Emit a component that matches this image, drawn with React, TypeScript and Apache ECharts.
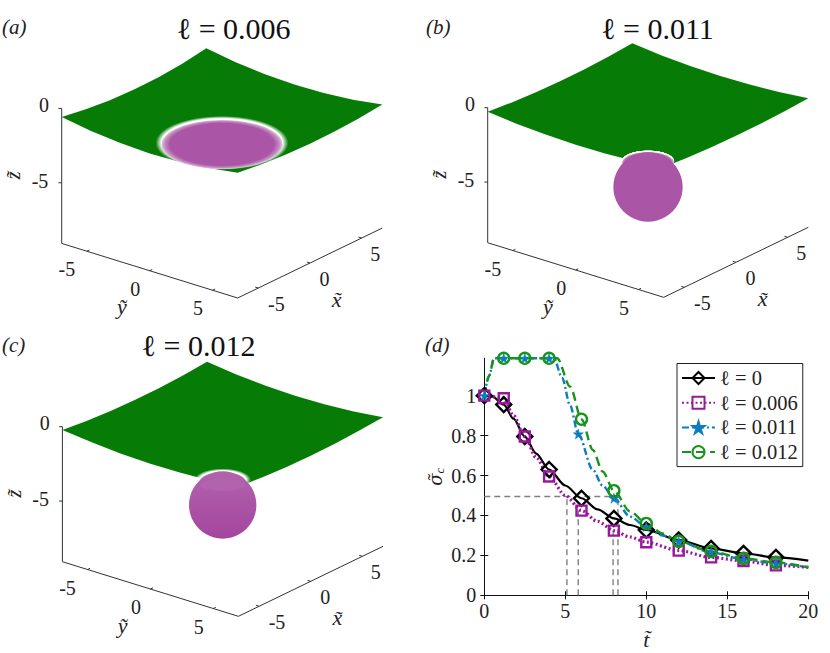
import React, { useEffect, useRef } from "react";
import * as echarts from "echarts";

const FONT = "'Liberation Serif', 'DejaVu Serif', serif";

// ---- panel (d) data ----
const legendNames = ["ℓ = 0", "ℓ = 0.006", "ℓ = 0.011", "ℓ = 0.012"];
const xTicks = [0, 5, 10, 15, 20];
const yTicks = [0, 0.2, 0.4, 0.6, 0.8, 1];
const yMax = 1.187;

const t0 = [0, 0.5, 1.2, 1.8, 2.5, 3.2, 4, 5, 6, 7, 8, 9, 10, 12, 14, 16, 18, 20];
const v0 = [1, 0.995, 0.955, 0.885, 0.795, 0.71, 0.63, 0.55, 0.486, 0.43, 0.385, 0.352, 0.327, 0.277, 0.235, 0.21, 0.19, 0.174];
const m0 = [0, 1.2, 2.5, 4, 6, 8, 10, 12, 14, 16, 18];

const t1 = t0;
const v1 = [1, 0.995, 0.987, 0.9, 0.795, 0.69, 0.595, 0.5, 0.424, 0.37, 0.324, 0.292, 0.266, 0.224, 0.19, 0.172, 0.15, 0.14];
const m1 = m0;

const t2 = [0, 0.3, 0.6, 1.2, 2.5, 4, 4.3, 4.8, 5.3, 5.8, 6.7, 7.3, 8, 9, 10, 11, 12, 14, 16, 18, 20];
const v2 = [1, 1.1, 1.187, 1.187, 1.187, 1.187, 1.187, 1.09, 0.95, 0.808, 0.628, 0.55, 0.486, 0.394, 0.344, 0.3, 0.27, 0.215, 0.18, 0.16, 0.14];
const m2 = [0, 1.2, 2.5, 4, 5.8, 8, 10, 12, 14, 16, 18];

const t3 = [0, 0.3, 0.6, 1.2, 2.5, 4, 4.5, 5.3, 6, 6.7, 7.3, 8, 9, 10, 11, 12, 14, 16, 18, 20];
const v3 = [1, 1.1, 1.187, 1.187, 1.187, 1.187, 1.187, 1.045, 0.882, 0.728, 0.62, 0.524, 0.42, 0.36, 0.31, 0.27, 0.22, 0.185, 0.165, 0.14];
const m3 = [1.2, 2.5, 4, 6, 8, 10, 12, 14, 16, 18];

const guideLevel = 0.495;
const guideT = [5.1, 5.8, 7.95, 8.25];
const guideTop = [0.49, 0.424, 0.324, 0.49];

// ---- panels (a)-(c) data ----
const panelTitles = ["ℓ = 0.006", "ℓ = 0.011", "ℓ = 0.012"];
const panelLetters = ["(a)", "(b)", "(c)", "(d)"];
const boxTicks = [-5, 0, 5];
const zTicks = [0, -5];
const boxHalf = 7;
const zFloor = -9.08;

// z of the surface along its four edges: left→top, top→right, right→bottom, bottom→left
const edgeZA = [
  [-0.57, -0.85, -1.02, -1.09, -1.055, -0.915, -0.67],
  [-0.67, -0.99, -1.19, -1.27, -1.23, -1.06, -0.77],
  [-0.77, -0.945, -1.04, -1.06, -1.0, -0.865, -0.65],
  [-0.65, -0.95, -1.14, -1.19, -1.11, -0.9, -0.57],
];
const edgeZB = [
  [-0.27, -0.43, -0.53, -0.575, -0.565, -0.5, -0.38],
  [-0.38, -0.58, -0.7, -0.74, -0.7, -0.59, -0.4],
  [-0.4, -0.5, -0.56, -0.57, -0.54, -0.46, -0.34],
  [-0.34, -0.52, -0.63, -0.655, -0.6, -0.48, -0.27],
];
const edgeZC = [
  [-0.22, -0.4, -0.51, -0.56, -0.55, -0.48, -0.34],
  [-0.34, -0.58, -0.73, -0.79, -0.75, -0.62, -0.4],
  [-0.4, -0.53, -0.61, -0.63, -0.6, -0.51, -0.36],
  [-0.36, -0.54, -0.64, -0.65, -0.59, -0.44, -0.22],
];
const sphereZ = [-2.94, -5.85, -5.78];
const sphereR = [3.72, 2.13, 2.07];
const capZ = [-2.94, -4.2, -4.2];
const capR = [3.72, 1.6, 1.43];

// layout of the 3D panels
const origins = [
  [222, 100.7],
  [648, 100],
  [222.7, 419],
];
const halos = [6, 0.6, 5];
const U_X = 10.33, U_Y = 12.57, V_X = 5, V_Y = -3.9, V_Z = 14.87;
const PX_PER_UNIT = 16.27;
const CAP_FLATTEN = 0.405;
const U_SPAN = 170, V_TOP = 100, V_BOTTOM = -215;

const GREEN = "#067c06";
const PURPLE = "#aa55a5";
const AXIS = "#333";

const project = (x: number, y: number, z: number) => [
  U_X * x + U_Y * y,
  V_X * x + V_Y * y + V_Z * z,
];

const radial = (stops: [number, string][]) =>
  new (echarts.graphic as any).RadialGradient(
    0.5,
    0.5,
    0.5,
    stops.map(([offset, color]) => ({ offset, color }))
  );

const glowFill = (f: number) =>
  radial([
    [0, "#ffffff"],
    [f, "#ffffff"],
    [f + (1 - f) * 0.3, "rgba(255,255,255,0.7)"],
    [1, "rgba(255,255,255,0)"],
  ]);

const rimFill = (core: string) =>
  radial([
    [0, core],
    [0.86, core],
    [0.95, "#c48fc1"],
    [1, "#e4cce3"],
  ]);

const panelRender = (panel: number, edges: number[][]) => (_p: any, api: any) => {
  const P = (x: number, y: number, z: number) => api.coord(project(x, y, z));
  const h = boxHalf;
  const steps = edges[0].length - 1;
  const along = (i: number) => -h + (2 * h * i) / steps;
  const pts: number[][] = [];
  edges[0].forEach((z, i) => pts.push(P(along(i), -h, z)));
  edges[1].forEach((z, i) => pts.push(P(h, along(i), z)));
  edges[2].forEach((z, i) => pts.push(P(-along(i), h, z)));
  edges[3].forEach((z, i) => pts.push(P(-h, -along(i), z)));

  const line = (a: number[], b: number[]) => ({
    type: "line",
    shape: { x1: a[0], y1: a[1], x2: b[0], y2: b[1] },
    style: { stroke: AXIS, lineWidth: 1 },
  });
  const label = (text: string, at: number[], dx: number, dy: number, size = 20, extra: any = {}) => ({
    type: "text",
    x: at[0] + dx,
    y: at[1] + dy,
    rotation: extra.rotation || 0,
    style: {
      text,
      fill: "#222",
      font: `${extra.italic ? "italic " : ""}${size}px ${FONT}`,
      align: "center",
      verticalAlign: "middle",
    },
  });

  const children: any[] = [];
  children.push({ type: "polygon", shape: { points: pts }, style: { fill: GREEN } });

  // box lines
  const lb = P(-h, -h, zFloor);
  const front = P(-h, h, zFloor);
  const rb = P(h, h, zFloor);
  const topZ = P(-h, -h, 0);
  children.push(line(topZ, lb), line(lb, front), line(front, rb));

  boxTicks.forEach((t, i) => {
    children.push(line(P(-h, t, zFloor), P(-h + 0.25, t, zFloor)));
    children.push(line(P(t, h, zFloor), P(t, h - 0.25, zFloor)));
    children.push(label(String(t), P(-h, t, zFloor), [-20, -14.5, -14.5][i], 18));
    children.push(label(String(t), P(t, h, zFloor), [18, 14.5, 13.5][i], 15.8));
  });
  zTicks.forEach((t, i) => {
    const a = P(-h, -h, t);
    children.push(line(a, [a[0] - 3.3, a[1]]));
    children.push(label(String(t), a, [-17.7, -21.7][i], [-3.3, -2][i]));
  });
  children.push(label("ỹ", P(-h, 0, zFloor), -27.7, 36, 22, { italic: true }));
  children.push(label("x̃", P(0, h, zFloor), 26.7, 36, 22, { italic: true }));
  children.push(label("z̃", P(-h, -h, -5), -48.5, -7.5, 20, { italic: true, rotation: Math.PI / 2 }));

  // sphere
  const halo = halos[panel];
  const capC = P(0, 0, capZ[panel]);
  const capRx = capR[panel] * PX_PER_UNIT;
  const capRy = capRx * CAP_FLATTEN;
  const scale = (capRx + halo) / capRx;
  children.push({
    type: "ellipse",
    shape: { cx: capC[0], cy: capC[1] - 1.5, rx: capRx + halo, ry: capRy * scale },
    style: { fill: glowFill(capRx / (capRx + halo)) },
  });
  children.push({
    type: "ellipse",
    shape: { cx: capC[0], cy: capC[1], rx: capRx, ry: capRy },
    style: { fill: rimFill(panel === 2 ? "#b263ad" : PURPLE) },
  });
  if (panel > 0) {
    const c = P(0, 0, sphereZ[panel]);
    const r = sphereR[panel] * PX_PER_UNIT;
    children.push({
      type: "circle",
      shape: { cx: c[0], cy: c[1], r },
      style: {
        fill:
          panel === 2
            ? new (echarts.graphic as any).LinearGradient(0, 0, 0, 1, [
                { offset: 0, color: "#b263ad" },
                { offset: 1, color: "#a4459e" },
              ])
            : PURPLE,
      },
    });
    children.push({
      type: "ellipse",
      shape: { cx: capC[0], cy: capC[1] + capRy * 0.35, rx: capRx * 0.96, ry: capRy * 0.65 },
      style: { fill: panel === 2 ? "#b263ad" : PURPLE },
    });
  }
  return { type: "group", children };
};

const STAR = "path://M50 0 L61 35 L98 35 L68 57 L79 91 L50 70 L21 91 L32 57 L2 35 L39 35 Z";

const curve = (
  name: string,
  ts: number[],
  vs: number[],
  marks: number[],
  color: string,
  symbol: string,
  size: number,
  width: number,
  type: any,
  filled = false
) => ({
  name,
  type: "line",
  xAxisIndex: 3,
  yAxisIndex: 3,
  smooth: 0.3,
  smoothMonotone: "x",
  symbol,
  symbolSize: size,
  showSymbol: true,
  showAllSymbol: true,
  clip: true,
  lineStyle: { color, width, type },
  itemStyle: {
    color: filled ? color : "rgba(0,0,0,0)",
    borderColor: color,
    borderWidth: filled ? 0.5 : 2.4,
  },
  data: ts.map((t, i) => ({
    value: [t, vs[i]],
    symbol: marks.includes(t) ? symbol : "none",
  })),
});

const guideStyle = { color: "#808080", width: 1.4, type: [6, 4] as any };
const guide = (name: string, data: number[][]) => ({
  name,
  type: "line",
  xAxisIndex: 3,
  yAxisIndex: 3,
  symbol: "none",
  lineStyle: guideStyle,
  data,
});

const hiddenAxis = (grid: number, min: number, max: number) => ({
  type: "value",
  gridIndex: grid,
  min,
  max,
  show: false,
});

export default function App() {
  const ref = useRef<HTMLDivElement>(null);
  useEffect(() => {
    document.body.style.margin = "0";
    document.body.style.background = "#fff";
    const chart = echarts.init(ref.current!, null, { renderer: "svg" });
    const grids: any[] = origins.map(([ox, oy]) => ({
      left: ox - U_SPAN,
      top: oy - V_TOP,
      width: 2 * U_SPAN,
      height: V_TOP - V_BOTTOM,
    }));
    grids.push({ left: 484.3, top: 358.3, width: 324, height: 237 });

    const axisCommon = {
      axisLine: { show: true, lineStyle: { color: "#111", width: 1 } },
      splitLine: { show: false },
    };
    const tickStyle = { inside: true, length: 4, lineStyle: { color: "#111", width: 1 } };

    const option: any = {
      animation: false,
      backgroundColor: "#fff",
      textStyle: { fontFamily: FONT },
      grid: grids,
      xAxis: [
        hiddenAxis(0, -U_SPAN, U_SPAN),
        hiddenAxis(1, -U_SPAN, U_SPAN),
        hiddenAxis(2, -U_SPAN, U_SPAN),
        {
          ...axisCommon,
          type: "value",
          gridIndex: 3,
          min: 0,
          max: 20,
          interval: 5,
          axisTick: { ...tickStyle, customValues: xTicks },
          axisLabel: {
            customValues: xTicks,
            color: "#222",
            fontFamily: FONT,
            fontSize: 20,
            margin: 6,
          },
          name: "t̃",
          nameLocation: "middle",
          nameGap: 33,
          nameTextStyle: { fontFamily: FONT, fontSize: 22, fontStyle: "italic", color: "#222" },
        },
        {
          ...axisCommon,
          type: "value",
          gridIndex: 3,
          position: "top",
          min: 0,
          max: 20,
          interval: 5,
          axisTick: { ...tickStyle, customValues: xTicks },
          axisLabel: { show: false },
        },
      ],
      yAxis: [
        hiddenAxis(0, V_BOTTOM, V_TOP),
        hiddenAxis(1, V_BOTTOM, V_TOP),
        hiddenAxis(2, V_BOTTOM, V_TOP),
        {
          ...axisCommon,
          type: "value",
          gridIndex: 3,
          min: 0,
          max: yMax,
          axisTick: { ...tickStyle, customValues: yTicks },
          axisLabel: {
            customValues: yTicks,
            color: "#222",
            fontFamily: FONT,
            fontSize: 20,
            margin: 8,
          },
          name: "{a|σ̃}{b|c}",
          nameLocation: "middle",
          nameRotate: 90,
          nameGap: 38,
          nameTextStyle: {
            color: "#222",
            rich: {
              a: { fontFamily: "'DejaVu Serif', serif", fontSize: 18, fontStyle: "italic", color: "#222" },
              b: { fontFamily: FONT, fontSize: 13, fontStyle: "italic", color: "#222", padding: [8, 0, 0, 0] },
            },
          },
        },
        {
          ...axisCommon,
          type: "value",
          gridIndex: 3,
          position: "right",
          min: 0,
          max: yMax,
          axisTick: { ...tickStyle, customValues: yTicks },
          axisLabel: { show: false },
        },
      ],
      legend: {
        data: legendNames,
        orient: "vertical",
        left: 677,
        top: 363.5,
        padding: [4, 5, 4, 4],
        itemWidth: 33,
        itemHeight: 15,
        itemGap: 3.7,
        backgroundColor: "#fff",
        borderColor: "#222",
        borderWidth: 1,
        borderRadius: 0,
        selectedMode: false,
        textStyle: { fontFamily: FONT, fontSize: 20.5, color: "#222" },
      },
      graphic: {
        elements: [
          ...panelTitles.map((text, i) => ({
            type: "text",
            x: [233.7, 657.5, 198.5][i],
            y: [28, 28, 345.7][i],
            style: {
              text,
              font: `30px ${FONT}`,
              fill: "#111",
              align: "center",
              verticalAlign: "middle",
            },
          })),
          ...panelLetters.map((text, i) => ({
            type: "text",
            x: [2, 426, 2, 425][i],
            y: [27, 27, 345, 345][i],
            style: {
              text,
              font: `italic 21px ${FONT}`,
              fill: "#222",
              align: "left",
              verticalAlign: "middle",
            },
          })),
        ],
      },
      series: [
        ...[edgeZA, edgeZB, edgeZC].map((edges, i) => ({
          type: "custom",
          xAxisIndex: i,
          yAxisIndex: i,
          silent: true,
          clip: false,
          data: [[0, 0]],
          renderItem: panelRender(i, edges),
        })),
        guide("h", [
          [0, guideLevel],
          [guideT[3], guideLevel],
        ]),
        ...guideT.map((t, i) =>
          guide("v" + i, [
            [t, 0],
            [t, guideTop[i]],
          ])
        ),
        curve(legendNames[0], t0, v0, m0, "#000000", "diamond", 15, 2.2, "solid"),
        curve(legendNames[1], t1, v1, m1, "#97189a", "rect", 10, 3.2, [2, 2.5]),
        curve(legendNames[2], t2, v2, m2, "#0d7cc0", STAR, 10, 2.4, [7, 3, 2, 3], true),
        curve(legendNames[3], t3, v3, m3, "#17941a", "circle", 11, 2.4, [9, 5]),
      ],
    };
    chart.setOption(option);
    return () => chart.dispose();
  }, []);
  return <div ref={ref} style={{ width: 830, height: 653 }} />;
}
